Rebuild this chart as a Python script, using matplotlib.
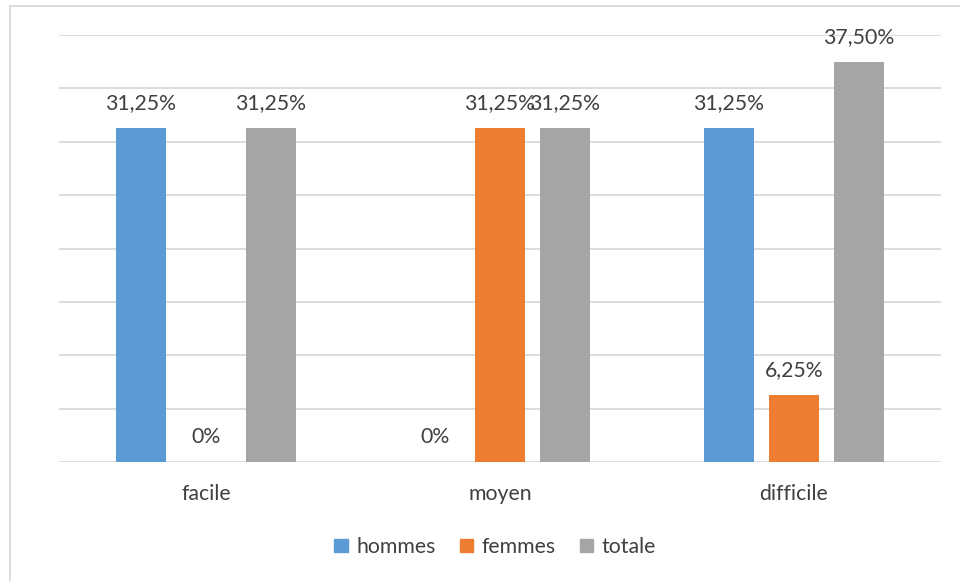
import numpy as np
import matplotlib
matplotlib.use("Agg")
import matplotlib.pyplot as plt
from matplotlib.lines import Line2D
from matplotlib.patches import Patch

categories = ["facile", "moyen", "difficile"]
series = ["hommes", "femmes", "totale"]
hommes = [31.25, 0.0, 31.25]
femmes = [0.0, 31.25, 6.25]
totale = [31.25, 31.25, 37.50]

COLORS = ["#5B9BD5", "#ED7D31", "#A5A5A5"]
GRID, TXT = "#D9D9D9", "#404040"
FS = 15.3
plt.rcParams["font.family"] = ["Lato", "DejaVu Sans"]


def fr_pct(v):
    return "0%" if v == 0 else f"{v:.2f}".replace(".", ",") + "%"


fig = plt.figure(figsize=(9.6, 5.81), dpi=100)
ax = fig.add_axes([59 / 960, 1 - 462 / 581, 882 / 960, (462 - 35) / 581])

x = np.arange(len(categories))
width, step = 0.17, 0.221
for i, (name, vals) in enumerate(zip(series, [hommes, femmes, totale])):
    pos = x + (i - 1) * step
    ax.bar(pos, vals, width, color=COLORS[i], zorder=2, label=name)
    for p, v in zip(pos, vals):
        ax.annotate(fr_pct(v), (p, v), xytext=(0, 18), textcoords="offset points",
                    ha="center", va="center", fontsize=FS, color=TXT)

ax.set_xlim(-0.5, 2.5)
ax.set_ylim(0, 40)
ax.set_yticks(np.arange(0, 41, 5))
ax.yaxis.grid(True, color=GRID, lw=1.3, zorder=0)
ax.tick_params(axis="y", left=False, labelleft=False)
ax.set_xticks(x)
ax.set_xticklabels(categories, fontsize=FS, color=TXT)
ax.tick_params(axis="x", length=0, pad=16)
for sp in ax.spines.values():
    sp.set_visible(False)

handles = [Patch(color=c) for c in COLORS]
fig.legend(handles, series, loc="center", bbox_to_anchor=(0.516, 1 - 547 / 581),
           ncol=3, frameon=False, fontsize=FS, labelcolor=TXT,
           handlelength=0.62, handleheight=0.62, handletextpad=0.4, columnspacing=1.15)

# chart frame (top and left edges)
fig.add_artist(Line2D([10 / 960, 1], [1 - 6 / 581, 1 - 6 / 581], color=GRID, lw=1.3))
fig.add_artist(Line2D([10 / 960, 10 / 960], [0, 1 - 6 / 581], color=GRID, lw=1.3))

fig.savefig("out.png", dpi=100, facecolor="white")
